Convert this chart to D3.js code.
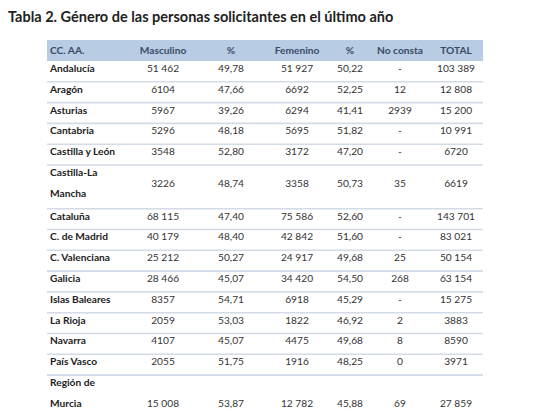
<!DOCTYPE html>
<html><head><meta charset="utf-8">
<script src="https://cdn.jsdelivr.net/npm/d3@7"></script>
<style>body{margin:0;background:#fff}</style>
</head><body><svg id="chart" width="540" height="411"></svg>
<script>
const title = "Tabla 2. Género de las personas solicitantes en el último año";
const headers = ["CC. AA.", "Masculino", "%", "Femenino", "%", "No consta", "TOTAL"];
const regions = [["Andalucía"], ["Aragón"], ["Asturias"], ["Cantabria"], ["Castilla y León"],
  ["Castilla-La", "Mancha"], ["Cataluña"], ["C. de Madrid"], ["C. Valenciana"], ["Galicia"],
  ["Islas Baleares"], ["La Rioja"], ["Navarra"], ["País Vasco"], ["Región de", "Murcia"]];
const masculino = ["51 462", "6104", "5967", "5296", "3548", "3226", "68 115", "40 179", "25 212", "28 466", "8357", "2059", "4107", "2055", "15 008"];
const pctM = ["49,78", "47,66", "39,26", "48,18", "52,80", "48,74", "47,40", "48,40", "50,27", "45,07", "54,71", "53,03", "45,07", "51,75", "53,87"];
const femenino = ["51 927", "6692", "6294", "5695", "3172", "3358", "75 586", "42 842", "24 917", "34 420", "6918", "1822", "4475", "1916", "12 782"];
const pctF = ["50,22", "52,25", "41,41", "51,82", "47,20", "50,73", "52,60", "51,60", "49,68", "54,50", "45,29", "46,92", "49,68", "48,25", "45,88"];
const noConsta = ["-", "12", "2939", "-", "-", "35", "-", "-", "25", "268", "-", "2", "8", "0", "69"];
const total = ["103 389", "12 808", "15 200", "10 991", "6720", "6619", "143 701", "83 021", "50 154", "63 154", "15 275", "3883", "8590", "3971", "27 859"];

const svg = d3.select("#chart");
const font = "Lato, sans-serif";
const colX = [50, 163, 231, 297, 350, 400, 456];
const left = 47, right = 483, headTop = 40, headBot = 61, lineH = 20.8;

svg.append("text").attr("x", 8).attr("y", 22)
  .attr("font-family", font).attr("font-weight", "bold").attr("font-size", 14.5)
  .attr("fill", "#222").text(title);

svg.append("rect").attr("x", left).attr("y", headTop).attr("width", right - left)
  .attr("height", headBot - headTop).attr("fill", "#b8cce4");
headers.forEach((h, i) => {
  svg.append("text").attr("x", colX[i]).attr("y", 54)
    .attr("text-anchor", i === 0 ? "start" : "middle")
    .attr("font-family", font).attr("font-weight", "bold").attr("font-size", 10.2)
    .attr("fill", "#3a4a66").text(h);
});

let y = headBot;
const rows = regions.map((r, i) => {
  const h = r.length === 1 ? lineH : lineH * 2.1;
  const row = {i, top: y, h};
  y += h;
  return row;
});

const g = svg.append("g");
rows.forEach(row => {
  const i = row.i;
  const two = regions[i].length > 1;
  if (i > 0) g.append("line").attr("x1", left).attr("x2", right)
    .attr("y1", row.top).attr("y2", row.top).attr("stroke", "#d3dbe8").attr("stroke-width", 1.6);
  regions[i].forEach((t, k) => {
    g.append("text").attr("x", colX[0]).attr("y", row.top + 11 + k * 21)
      .attr("font-family", font).attr("font-weight", "bold").attr("font-size", 10.2)
      .attr("fill", "#222").text(t);
  });
  // values: Castilla-La Mancha centred, Murcia on second line
  const vy = !two ? row.top + 11 : (i === regions.length - 1 ? row.top + 32 : row.top + 22);
  [masculino, pctM, femenino, pctF, noConsta, total].forEach((arr, c) => {
    g.append("text").attr("x", colX[c + 1]).attr("y", vy).attr("text-anchor", "middle")
      .attr("font-family", font).attr("font-size", 10.2).attr("fill", "#333").text(arr[i]);
  });
});
</script></body></html>
